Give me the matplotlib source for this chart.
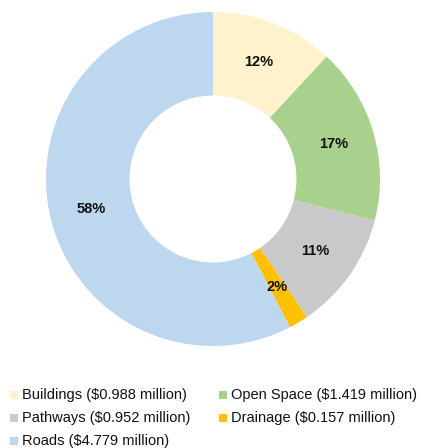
import matplotlib
matplotlib.use("Agg")
import matplotlib.pyplot as plt
from matplotlib.patches import Rectangle
import numpy as np

categories = ["Buildings", "Open Space", "Pathways", "Drainage", "Roads"]
costs_million = [0.988, 1.419, 0.952, 0.157, 4.779]
colors = ["#FFF2CC", "#A9D18E", "#C9C9C9", "#FFC000", "#BDD7EE"]

plt.rcParams["font.family"] = ["Liberation Sans", "DejaVu Sans"]

W, H = 422, 448
fig = plt.figure(figsize=(W / 100, H / 100), dpi=100)

# Donut geometry in pixels
cx, cy, r_out = 213, 179, 167
ax = fig.add_axes([(cx - r_out) / W, (H - cy - r_out) / H, 2 * r_out / W, 2 * r_out / H])

ring = 0.5
wedges, texts = ax.pie(
    costs_million,
    colors=colors,
    startangle=90,
    counterclock=False,
    radius=1,
    wedgeprops=dict(width=ring, linewidth=0),
)
ax.set_xlim(-1, 1)
ax.set_ylim(-1, 1)
ax.set_aspect("auto")
ax.axis("off")

total = sum(costs_million)
for w, v in zip(wedges, costs_million):
    ang = np.deg2rad((w.theta1 + w.theta2) / 2)
    rr = 1 - ring / 2
    ax.text(rr * np.cos(ang), rr * np.sin(ang), f"{v / total * 100:.0f}%",
            ha="center", va="center", fontsize=10.5, fontweight="bold", color="#111111")

# Legend laid out in rows of two
col_x = [14, 223]
row_y = [395, 418, 441]
for i, (name, val, c) in enumerate(zip(categories, costs_million, colors)):
    row, col = divmod(i, 2)
    x, y = col_x[col], row_y[row]
    s = 7.5
    fig.add_artist(Rectangle(((x - s / 2) / W, (H - y - s / 2) / H), s / W, s / H,
                             transform=fig.transFigure, facecolor=c, edgecolor="none"))
    fig.text((x + 8) / W, (H - y) / H, f"{name} (${val:.3f} million)",
             ha="left", va="center", fontsize=10.5, color="#111111")

fig.savefig("out.png", dpi=100, facecolor="white")
